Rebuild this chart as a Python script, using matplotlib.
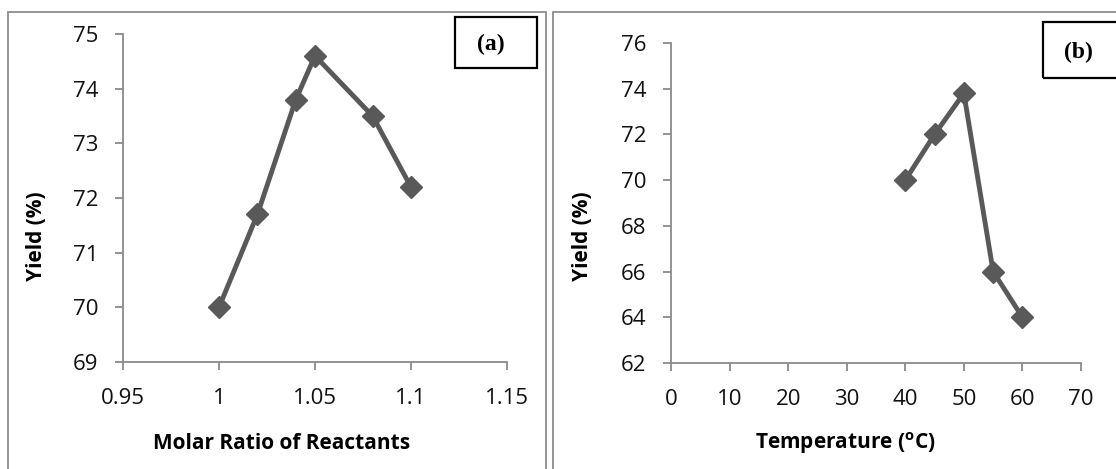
import matplotlib
matplotlib.use("Agg")
import matplotlib.pyplot as plt
from matplotlib.patches import Rectangle

plt.rcParams['font.family'] = ['Open Sans', 'DejaVu Sans']

# (a) molar ratio
ratio = [1.00, 1.02, 1.04, 1.05, 1.08, 1.10]
yield_a = [70.0, 71.7, 73.8, 74.6, 73.5, 72.2]
xticks_a = [0.95, 1.0, 1.05, 1.1, 1.15]
xlabels_a = ["0.95", "1", "1.05", "1.1", "1.15"]
yticks_a = [69, 70, 71, 72, 73, 74, 75]

# (b) temperature
temp = [40, 45, 50, 55, 60]
yield_b = [70.0, 72.0, 73.8, 66.0, 64.0]
xticks_b = [0, 10, 20, 30, 40, 50, 60, 70]
yticks_b = [62, 64, 66, 68, 70, 72, 74, 76]

W, H = 1116, 469
fig = plt.figure(figsize=(W / 100, H / 100), dpi=100)

def fbox(x0, y0, x1, y1):
    # pixel box (top-left origin) -> figure fraction rect
    return [x0 / W, 1 - y1 / H, (x1 - x0) / W, (y1 - y0) / H]

def ftext(px, py, s, **kw):
    fig.text(px / W, 1 - py / H, s, ha="center", va="center", **kw)

# panel frames
for x0, x1 in [(8, 546), (553, 1125)]:
    r = fbox(x0, 12, x1, 480)
    fig.patches.append(Rectangle((r[0], r[1]), r[2], r[3], transform=fig.transFigure,
                                 fill=False, ec="#8c8c8c", lw=1.3))

axis_col = "#8a8a8a"
line_col = "#595959"

def style(ax):
    for s in ["top", "right"]:
        ax.spines[s].set_visible(False)
    for s in ["left", "bottom"]:
        ax.spines[s].set_color(axis_col)
        ax.spines[s].set_linewidth(1.3)
    ax.tick_params(direction="out", length=6, width=1.3, color=axis_col,
                   labelsize=16, labelcolor="#111111")
    ax.tick_params(axis="x", pad=13)
    ax.tick_params(axis="y", pad=12)

ax1 = fig.add_axes(fbox(123, 34, 507, 362))
ax1.plot(ratio, yield_a, color=line_col, lw=3.5, marker="D", ms=11, clip_on=False)
ax1.set_xlim(0.95, 1.15)
ax1.set_ylim(69, 75)
ax1.set_xticks(xticks_a)
ax1.set_xticklabels(xlabels_a)
ax1.set_yticks(yticks_a)
style(ax1)

ax2 = fig.add_axes(fbox(671, 43, 1081, 363))
ax2.plot(temp, yield_b, color=line_col, lw=3.5, marker="D", ms=11, clip_on=False)
ax2.set_xlim(0, 70)
ax2.set_ylim(62, 76)
ax2.set_xticks(xticks_b)
ax2.set_yticks(yticks_b)
style(ax2)

# axis titles
ftext(36, 236, "Yield (%)", rotation=90, fontsize=15, fontweight="bold")
ftext(583, 236, "Yield (%)", rotation=90, fontsize=15, fontweight="bold")
ftext(282, 443, "Molar Ratio of Reactants", fontsize=15, fontweight="bold")
ftext(846, 443, r"Temperature ($^{\mathregular{o}}$C)", fontsize=15, fontweight="bold")

# label boxes
for x0, y0, x1, y1 in [(455, 17, 537, 68), (1043, 22, 1125, 78)]:
    r = fbox(x0, y0, x1, y1)
    fig.patches.append(Rectangle((r[0], r[1]), r[2], r[3], transform=fig.transFigure,
                                 fill=False, ec="black", lw=1.6))
ftext(491, 44, "(a)", fontsize=17, fontweight="bold", family=["Liberation Serif", "DejaVu Serif"])
ftext(1078, 52, "(b)", fontsize=17, fontweight="bold", family=["Liberation Serif", "DejaVu Serif"])

fig.savefig("out.png", dpi=100)
